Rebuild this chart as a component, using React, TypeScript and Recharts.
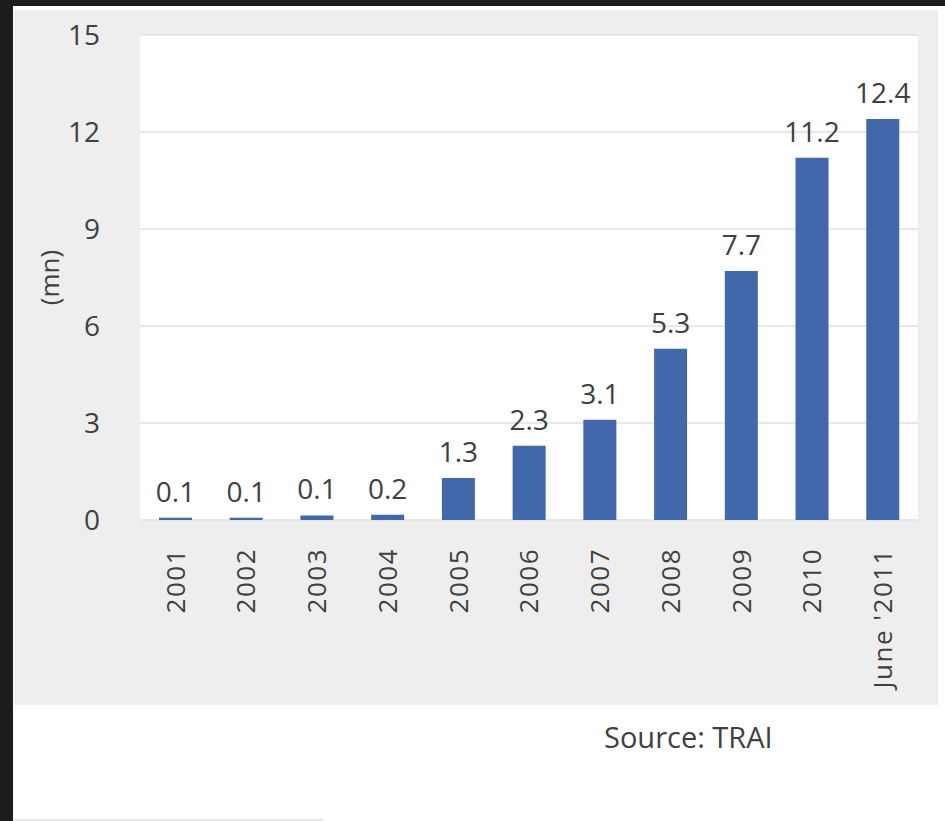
import { Bar, BarChart, CartesianGrid, LabelList, XAxis, YAxis } from "recharts";

const years = ["2001", "2002", "2003", "2004", "2005", "2006", "2007", "2008", "2009", "2010", "June '2011"];
const subscribers = [0.07, 0.07, 0.14, 0.16, 1.3, 2.3, 3.1, 5.3, 7.7, 11.2, 12.4];
const yTicks = [0, 3, 6, 9, 12, 15];

const data = years.map((year, i) => ({ year, value: subscribers[i] }));

const FONT = "'Open Sans', 'Noto Sans', sans-serif";

const YearTick = ({ x, y, payload }: any) => (
    <g transform={`translate(${x},${y + 20}) rotate(-90)`}>
        <text x={0} y={0} dy="0.36em" textAnchor="end" fill="#404040" fontSize={26} letterSpacing={1.5} fontFamily={FONT}>
            {payload.value}
        </text>
    </g>
);

function App() {
    return (
        <div style={{ position: "absolute", left: 0, top: 0, width: 945, height: 821, background: "#fff", overflow: "hidden" }}>
            <div style={{ position: "absolute", left: 0, top: 0, width: 945, height: 6, background: "#1c1c1c" }} />
            <div style={{ position: "absolute", left: 0, top: 0, width: 13, height: 821, background: "#1c1c1c" }} />
            <div style={{ position: "absolute", left: 14, top: 10, width: 924, height: 695, background: "#eeeeee" }}>
                <BarChart
                    width={924}
                    height={695}
                    data={data}
                    margin={{ top: 25, right: 20, left: 0, bottom: 0 }}
                    barSize={33}
                >
                    <CartesianGrid vertical={false} fill="#ffffff" stroke="#e0e0e0" strokeWidth={1.5} />
                    <XAxis
                        dataKey="year"
                        interval={0}
                        height={185}
                        axisLine={false}
                        tickLine={false}
                        tick={YearTick}
                    />
                    <YAxis
                        width={126}
                        domain={[0, 15]}
                        ticks={yTicks}
                        axisLine={false}
                        tickLine={false}
                        tickSize={0}
                        tickMargin={40}
                        tick={{ fill: "#404040", fontSize: 28, fontFamily: FONT }}
                        label={{ value: "(mn)", angle: -90, position: "insideLeft", offset: 36, style: { fill: "#404040", fontSize: 26, fontFamily: FONT, textAnchor: "middle" } }}
                    />
                    <Bar dataKey="value" fill="#4068ab" isAnimationActive={false}>
                        <LabelList
                            dataKey="value"
                            position="top"
                            offset={16}
                            formatter={(v: any) => Number(v).toFixed(1)}
                            style={{ fill: "#404040", fontSize: 28, fontFamily: FONT }}
                        />
                    </Bar>
                </BarChart>
            </div>
            <div style={{ position: "absolute", left: 604, top: 717, fontFamily: "'Liberation Sans Narrow', 'Open Sans', sans-serif", fontSize: 29, color: "#404040" }}>
                Source: TRAI
            </div>
            <div style={{ position: "absolute", left: 13, top: 819, width: 310, height: 2, background: "#e4e4e4" }} />
        </div>
    );
}

export default App;
